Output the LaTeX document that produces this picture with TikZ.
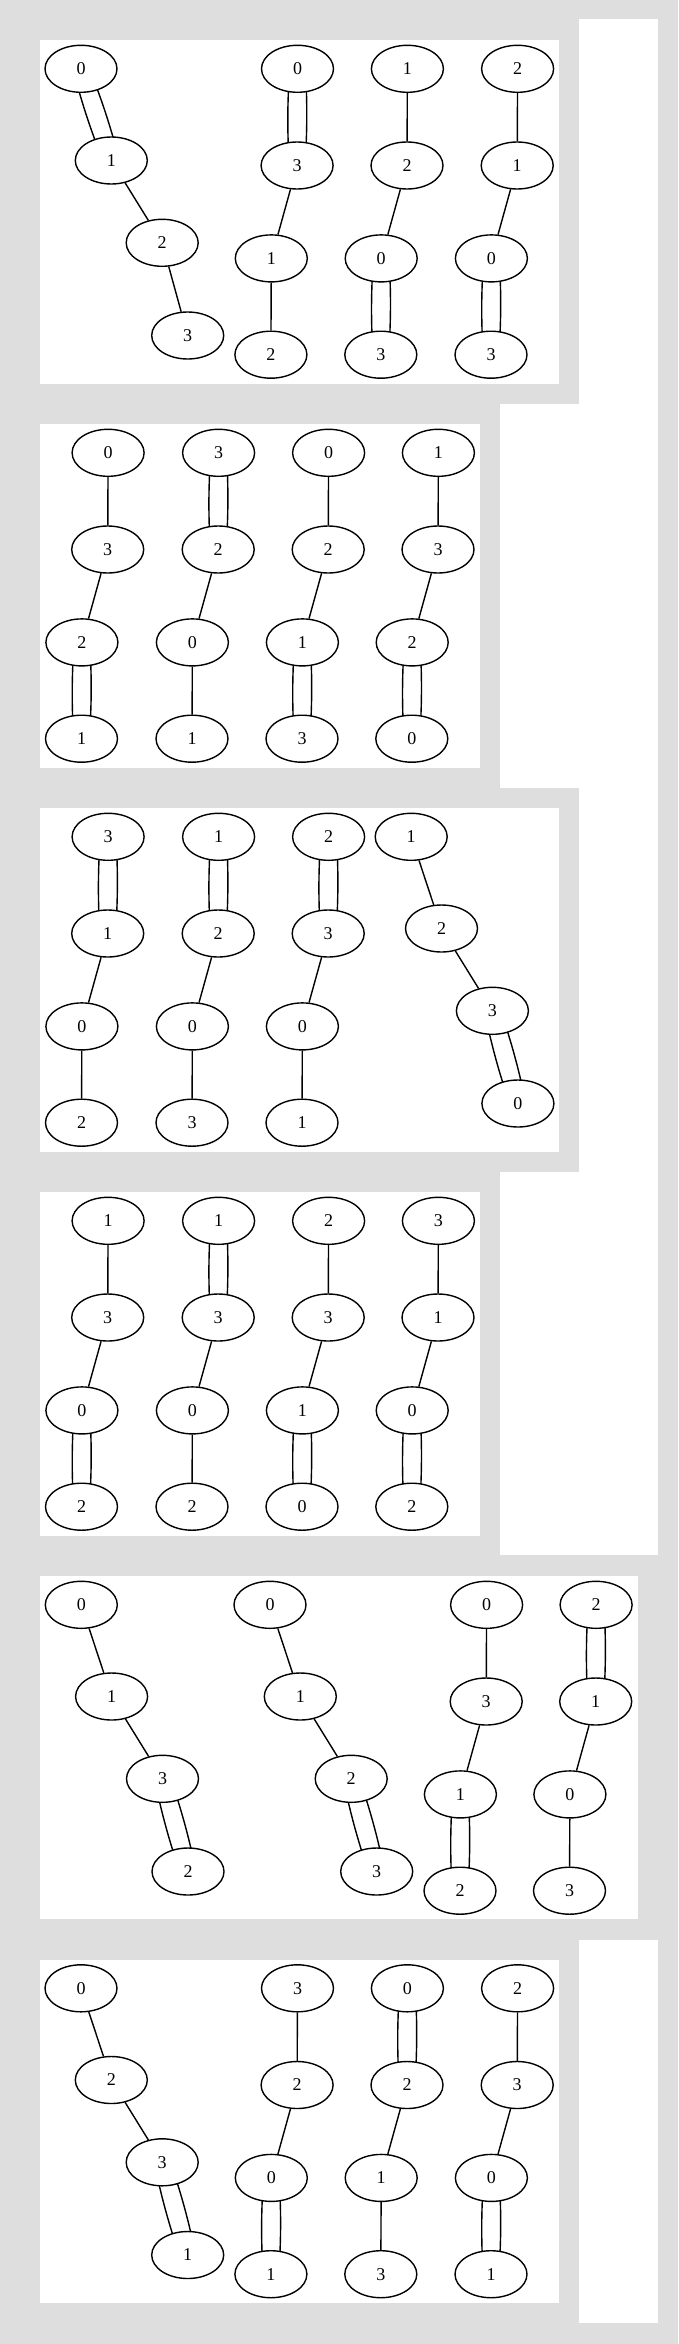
\documentclass[tikz,border=0pt]{standalone}
\usepackage{fontspec}
\setmainfont{Liberation Serif}
\usetikzlibrary{shapes.geometric,calc}
\definecolor{gvgray}{HTML}{DEDEDE}
\pgfdeclarelayer{back}
\pgfdeclarelayer{edges}
\pgfsetlayers{back,edges,main}
\tikzset{
  gvnode/.style={ellipse, draw, line width=1.4pt, fill=white, minimum width=72pt, minimum height=47pt, inner sep=0pt, font=\fontsize{18}{20}\selectfont},
  gvedge/.style={line width=1.4pt},
  gvpanel/.style={fill=white},
}
\newcommand{\gvstd}[7]{%
  \node[gvnode] (#1a) at ({#2+26.6},{#3+28.8}) {#4};
  \node[gvnode] (#1b) at ({#2+26.2},{#3+125.5}) {#5};
  \node[gvnode] (#1c) at ({#2+0.4},{#3+218.4}) {#6};
  \node[gvnode] (#1d) at ({#2},{#3+314.7}) {#7};}
\newcommand{\gvdiag}[7]{%
  \node[gvnode] (#1a) at ({#2},{#3+28.8}) {#4};
  \node[gvnode] (#1b) at ({#2+30.3},{#3+120.5}) {#5};
  \node[gvnode] (#1c) at ({#2+81.2},{#3+202.8}) {#6};
  \node[gvnode] (#1d) at ({#2+106.7},{#3+295.5}) {#7};}
\newcommand{\gvsgl}[2]{\draw[gvedge] (#1) -- (#2);}
\newcommand{\gvdbl}[2]{%
  \draw[gvedge] ($(#1)!8pt!90:(#2)$) to[bend left=3] ($(#2)!8pt!-90:(#1)$);
  \draw[gvedge] ($(#1)!8pt!-90:(#2)$) to[bend right=3] ($(#2)!8pt!90:(#1)$);}
\newcommand{\gvchain}[2]{%
  \ifnum#2=1 \gvdbl{#1a}{#1b}\else\gvsgl{#1a}{#1b}\fi
  \gvsgl{#1b}{#1c}%
  \ifnum#2=3 \gvdbl{#1c}{#1d}\else\gvsgl{#1c}{#1d}\fi}
\begin{document}
\begin{tikzpicture}[x=1pt,y=-1pt]
\useasboundingbox (0,0) rectangle (678,2344);
\begin{pgfonlayer}{back}
\fill[gvgray] (0,0) rectangle (678,2344);
\fill[white] (579,19) rectangle (658,1555);
\fill[white] (500,404) rectangle (579,788);
\fill[white] (500,1172) rectangle (579,1555);
\fill[white] (579,1940) rectangle (658,2323);
\fill[gvpanel] (40,40) rectangle (559,384);
\fill[gvpanel] (40,424) rectangle (480,768);
\fill[gvpanel] (40,808) rectangle (559,1152);
\fill[gvpanel] (40,1192) rectangle (480,1536);
\fill[gvpanel] (40,1576) rectangle (638,1919);
\fill[gvpanel] (40,1959.5) rectangle (559,2303);
\end{pgfonlayer}
% panel 1
\gvdiag{pAa}{81}{40}{0}{1}{2}{3}
\gvstd{pAb}{270.9}{40}{0}{3}{1}{2}
\gvstd{pAc}{380.8}{40}{1}{2}{0}{3}
\gvstd{pAd}{491}{40}{2}{1}{0}{3}
% panel 2
\gvstd{pBa}{81.5}{424}{0}{3}{2}{1}
\gvstd{pBb}{192}{424}{3}{2}{0}{1}
\gvstd{pBc}{302}{424}{0}{2}{1}{3}
\gvstd{pBd}{411.8}{424}{1}{3}{2}{0}
% panel 3
\gvstd{pCa}{81.5}{808}{3}{1}{0}{2}
\gvstd{pCb}{192}{808}{1}{2}{0}{3}
\gvstd{pCc}{302}{808}{2}{3}{0}{1}
\gvdiag{pCd}{411.2}{808}{1}{2}{3}{0}
% panel 4
\gvstd{pDa}{81.5}{1192}{1}{3}{0}{2}
\gvstd{pDb}{192}{1192}{1}{3}{0}{2}
\gvstd{pDc}{302}{1192}{2}{3}{1}{0}
\gvstd{pDd}{411.8}{1192}{3}{1}{0}{2}
% panel 5
\gvdiag{pEa}{81.3}{1576}{0}{1}{3}{2}
\gvdiag{pEb}{270}{1576}{0}{1}{2}{3}
\gvstd{pEc}{460}{1576}{0}{3}{1}{2}
\gvstd{pEd}{569.5}{1576}{2}{1}{0}{3}
% panel 6
\gvdiag{pFa}{81}{1959.5}{0}{2}{3}{1}
\gvstd{pFb}{270.9}{1959.5}{3}{2}{0}{1}
\gvstd{pFc}{380.8}{1959.5}{0}{2}{1}{3}
\gvstd{pFd}{491}{1959.5}{2}{3}{0}{1}
\begin{pgfonlayer}{edges}
\gvchain{pAa}{1}\gvchain{pAb}{1}\gvchain{pAc}{3}\gvchain{pAd}{3}
\gvchain{pBa}{3}\gvchain{pBb}{1}\gvchain{pBc}{3}\gvchain{pBd}{3}
\gvchain{pCa}{1}\gvchain{pCb}{1}\gvchain{pCc}{1}\gvchain{pCd}{3}
\gvchain{pDa}{3}\gvchain{pDb}{1}\gvchain{pDc}{3}\gvchain{pDd}{3}
\gvchain{pEa}{3}\gvchain{pEb}{3}\gvchain{pEc}{3}\gvchain{pEd}{1}
\gvchain{pFa}{3}\gvchain{pFb}{3}\gvchain{pFc}{1}\gvchain{pFd}{3}
\end{pgfonlayer}
\end{tikzpicture}
\end{document}
